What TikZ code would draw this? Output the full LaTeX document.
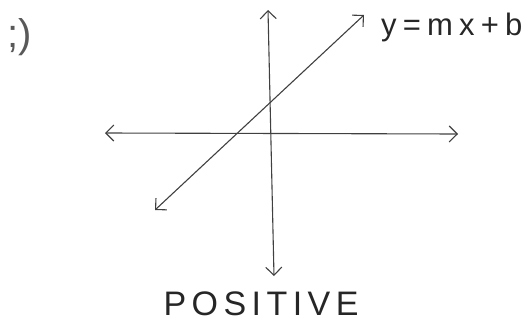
\documentclass[tikz,border=0pt]{standalone}
\usepackage{fontspec}
\setmainfont{Liberation Sans}
\newfontfamily\handfont[LetterSpace=20]{Liberation Sans}
\usetikzlibrary{arrows.meta}
\begin{document}
\begin{tikzpicture}[x=1pt,y=-1pt,
  pen/.style={draw=black!75, line width=1.1pt, line cap=round},
  axisarrows/.style={{Straight Barb[length=8pt,width=16pt]}-{Straight Barb[length=8pt,width=16pt]}},
  hand/.style={text=black!85, inner sep=0pt}]
\useasboundingbox (0,0) rectangle (530,324);
% axes end points
\coordinate (vtop) at (268,10);
\coordinate (vbot) at (274,276);
\coordinate (hleft) at (105,133);
\coordinate (hright) at (458,134);
\coordinate (dlow) at (155,210);
\coordinate (dhigh) at (364,15);
\draw[pen,axisarrows] (vbot) -- (vtop);
\draw[pen,axisarrows] (hleft) -- (hright);
\draw[pen,axisarrows] (dlow) -- (dhigh);
% labels
\node[hand, anchor=west, font=\handfont\fontsize{31}{36}\selectfont] (eq) at (381,27) {y=mx+b};
\node[hand, anchor=center, font=\addfontfeatures{LetterSpace=16}\fontsize{34}{40}\selectfont] (pos) at (261,304) {POSITIVE};
\node[hand, anchor=center, font=\fontsize{40}{46}\selectfont, text=black!65] (smile) at (20,37) {;)};
\end{tikzpicture}
\end{document}
